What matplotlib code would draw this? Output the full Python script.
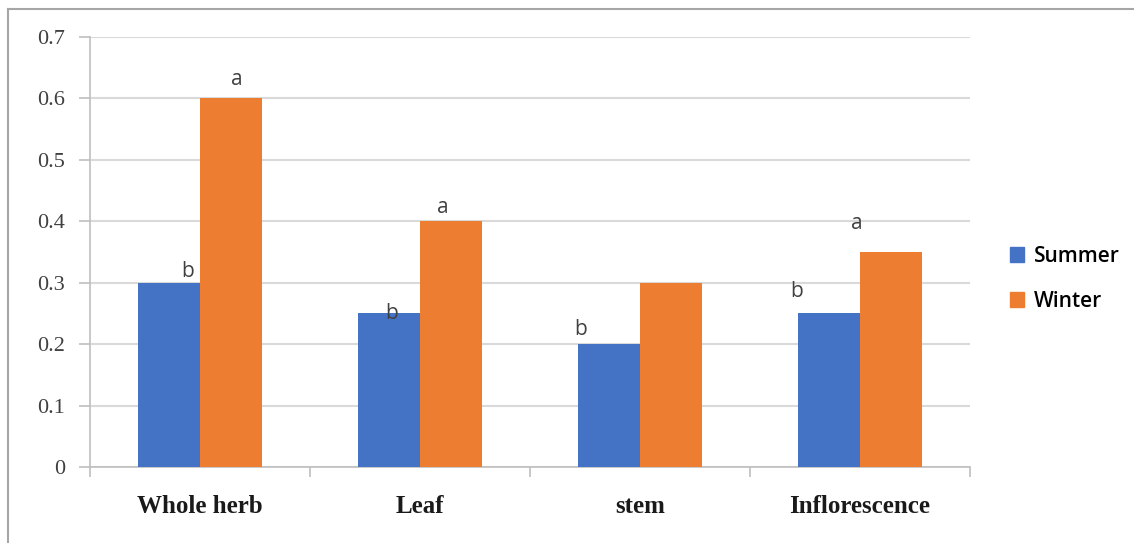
import matplotlib
matplotlib.use("Agg")
import matplotlib.pyplot as plt
import numpy as np
from matplotlib.lines import Line2D
from matplotlib.patches import Patch

categories = ["Whole herb", "Leaf", "stem", "Inflorescence"]
summer = [0.3, 0.25, 0.2, 0.25]
winter = [0.6, 0.4, 0.3, 0.35]
summer_marks = ["b", "b", "b", "b"]
winter_marks = ["a", "a", "", "a"]
yticks = [0, 0.1, 0.2, 0.3, 0.4, 0.5, 0.6, 0.7]
ytick_labels = ["0", "0.1", "0.2", "0.3", "0.4", "0.5", "0.6", "0.7"]

# where the letters sit relative to each group centre / bar top (as in the original)
summer_off = [(-0.055, 0.009), (-0.127, -0.009), (-0.268, 0.015), (-0.286, 0.027)]
winter_off = [(0.168, 0.022), (0.105, 0.014), (0.0, 0.0), (-0.014, 0.038)]

blue = "#4472c4"
orange = "#ed7d31"
grid_col = "#d9d9d9"
axis_col = "#bfbfbf"

fig = plt.figure(figsize=(11.34, 5.43), dpi=100)
ax = fig.add_axes([0.0794, 0.140, 0.7760, 0.7921])

x = np.arange(len(categories))
w = 0.282
ax.bar(x - w / 2, summer, w, color=blue, label="Summer", zorder=3)
ax.bar(x + w / 2, winter, w, color=orange, label="Winter", zorder=3)

# significance letters
for i in range(len(categories)):
    if summer_marks[i]:
        dx, dy = summer_off[i]
        ax.text(x[i] + dx, summer[i] + dy, summer_marks[i], ha="center", va="baseline",
                fontsize=15, family="Open Sans", color="#404040", zorder=4)
    if winter_marks[i]:
        dx, dy = winter_off[i]
        ax.text(x[i] + dx, winter[i] + dy, winter_marks[i], ha="center", va="baseline",
                fontsize=15, family="Open Sans", color="#404040", zorder=4)

ax.set_xlim(-0.5, len(categories) - 0.5)
ax.set_ylim(0, 0.7)
ax.set_yticks(yticks)
ax.set_yticklabels(ytick_labels, family="Liberation Serif", fontsize=16, color="#404040")
ax.yaxis.grid(True, color=grid_col, linewidth=1.5, zorder=0)
ax.tick_params(axis="y", length=8, color=axis_col, width=1.2, pad=10)

# category ticks between groups
ax.set_xticks(np.arange(-0.5, len(categories), 1.0))
ax.set_xticklabels([])
ax.tick_params(axis="x", length=7, color=axis_col, width=1.2, direction="out")
for i, c in enumerate(categories):
    ax.text(x[i], -0.064, c, ha="center", va="center", fontsize=18, fontweight="bold",
            family="Liberation Serif", color="#1a1a1a")

for s in ["top", "right"]:
    ax.spines[s].set_visible(False)
for s in ["left", "bottom"]:
    ax.spines[s].set_color(axis_col)
    ax.spines[s].set_linewidth(1.2)

handles = [Patch(color=blue), Patch(color=orange)]
fig.legend(handles, ["Summer", "Winter"], loc="center left", bbox_to_anchor=(0.874, 0.487),
           frameon=False, prop={"family": "Open Sans", "size": 15, "weight": "semibold"},
           handlelength=0.7, handleheight=0.7, handletextpad=0.45, labelspacing=1.15)

# outer border (top and left visible)
fig.add_artist(Line2D([8 / 1134, 1.0], [1 - 9 / 543, 1 - 9 / 543], transform=fig.transFigure,
                      color="#a6a6a6", linewidth=1.5))
fig.add_artist(Line2D([8 / 1134, 8 / 1134], [0, 1 - 9 / 543], transform=fig.transFigure,
                      color="#a6a6a6", linewidth=1.5))

fig.savefig("out.png", dpi=100)
